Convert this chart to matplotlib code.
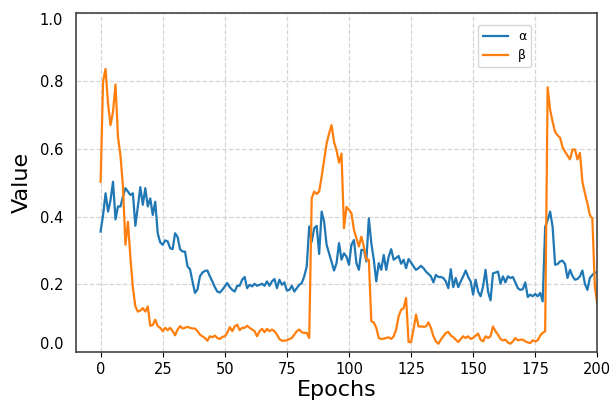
import matplotlib
matplotlib.use('Agg')
import matplotlib.pyplot as plt
import numpy as np

# values, one per epoch (0..200)
alpha = [
    0.356, 0.405, 0.469, 0.415, 0.449, 0.503, 0.392, 0.430, 0.430, 0.459,
    0.484, 0.474, 0.464, 0.469, 0.373, 0.430, 0.487, 0.435, 0.484, 0.430,
    0.454, 0.405, 0.444, 0.351, 0.324, 0.317, 0.330, 0.327, 0.307, 0.304,
    0.351, 0.340, 0.304, 0.297, 0.297, 0.253, 0.245, 0.209, 0.175, 0.185,
    0.224, 0.235, 0.240, 0.241, 0.224, 0.209, 0.192, 0.179, 0.176, 0.184,
    0.194, 0.204, 0.192, 0.184, 0.179, 0.196, 0.196, 0.214, 0.222, 0.189,
    0.199, 0.194, 0.202, 0.196, 0.199, 0.202, 0.196, 0.209, 0.196, 0.209,
    0.216, 0.189, 0.214, 0.199, 0.206, 0.182, 0.184, 0.196, 0.179, 0.189,
    0.199, 0.204, 0.224, 0.253, 0.371, 0.326, 0.366, 0.373, 0.290, 0.415,
    0.385, 0.317, 0.292, 0.268, 0.241, 0.263, 0.322, 0.273, 0.292, 0.282,
    0.258, 0.317, 0.331, 0.263, 0.243, 0.302, 0.302, 0.268, 0.395, 0.322,
    0.273, 0.209, 0.263, 0.243, 0.287, 0.243, 0.282, 0.304, 0.273, 0.278,
    0.284, 0.261, 0.273, 0.248, 0.275, 0.265, 0.253, 0.243, 0.248, 0.255,
    0.248, 0.238, 0.231, 0.224, 0.206, 0.228, 0.222, 0.222, 0.219, 0.209,
    0.189, 0.245, 0.192, 0.219, 0.192, 0.209, 0.224, 0.241, 0.222, 0.209,
    0.170, 0.214, 0.179, 0.165, 0.194, 0.243, 0.179, 0.153, 0.233, 0.235,
    0.238, 0.202, 0.224, 0.206, 0.224, 0.219, 0.222, 0.206, 0.189, 0.184,
    0.186, 0.206, 0.163, 0.170, 0.165, 0.172, 0.165, 0.175, 0.150, 0.370,
    0.390, 0.415, 0.370, 0.258, 0.260, 0.268, 0.270, 0.260, 0.219, 0.243,
    0.225, 0.214, 0.216, 0.224, 0.241, 0.202, 0.184, 0.219, 0.228, 0.235,
    0.236,
]

beta = [
    0.503, 0.800, 0.836, 0.733, 0.670, 0.710, 0.790, 0.635, 0.580, 0.490,
    0.317, 0.385, 0.280, 0.190, 0.135, 0.120, 0.123, 0.130, 0.120, 0.135,
    0.078, 0.080, 0.096, 0.077, 0.072, 0.062, 0.072, 0.065, 0.072, 0.062,
    0.050, 0.067, 0.077, 0.070, 0.072, 0.075, 0.072, 0.070, 0.070, 0.062,
    0.052, 0.047, 0.042, 0.034, 0.047, 0.044, 0.049, 0.042, 0.039, 0.045,
    0.047, 0.057, 0.074, 0.062, 0.076, 0.081, 0.065, 0.072, 0.072, 0.078,
    0.072, 0.067, 0.062, 0.047, 0.062, 0.069, 0.059, 0.069, 0.062, 0.067,
    0.062, 0.052, 0.039, 0.034, 0.034, 0.035, 0.039, 0.042, 0.052, 0.062,
    0.067, 0.059, 0.057, 0.057, 0.042, 0.454, 0.474, 0.467, 0.474, 0.518,
    0.567, 0.616, 0.645, 0.670, 0.620, 0.596, 0.559, 0.586, 0.366, 0.429,
    0.420, 0.410, 0.361, 0.336, 0.312, 0.341, 0.312, 0.273, 0.273, 0.091,
    0.088, 0.072, 0.042, 0.039, 0.040, 0.042, 0.044, 0.039, 0.047, 0.067,
    0.106, 0.125, 0.130, 0.160, 0.030, 0.030, 0.067, 0.111, 0.076, 0.076,
    0.075, 0.076, 0.088, 0.072, 0.047, 0.032, 0.025, 0.037, 0.047, 0.057,
    0.060, 0.049, 0.045, 0.037, 0.030, 0.039, 0.047, 0.042, 0.047, 0.039,
    0.042, 0.049, 0.055, 0.037, 0.032, 0.047, 0.042, 0.047, 0.076, 0.062,
    0.052, 0.039, 0.035, 0.037, 0.029, 0.025, 0.032, 0.042, 0.035, 0.037,
    0.037, 0.032, 0.029, 0.027, 0.035, 0.032, 0.035, 0.049, 0.057, 0.062,
    0.782, 0.715, 0.680, 0.650, 0.640, 0.633, 0.605, 0.592, 0.580, 0.569,
    0.598, 0.598, 0.569, 0.588, 0.503, 0.469, 0.440, 0.405, 0.395, 0.194,
    0.140,
]

epochs = np.arange(len(alpha))
x_ticks = [0, 25, 50, 75, 100, 125, 150, 175, 200]
y_ticks = [0.0, 0.2, 0.4, 0.6, 0.8, 1.0]

fig = plt.figure(figsize=(6.11, 4.03), dpi=100)
ax = fig.add_axes([0.124, 0.126, 0.8536, 0.841])

ax.plot(epochs, alpha, color='#1f77b4', lw=1.6, label='α')
ax.plot(epochs, beta, color='#ff7f0e', lw=1.6, label='β')

ax.set_xlim(-10, 200)
ax.set_ylim(0, 1.0)
ax.set_xticks(x_ticks)
ax.set_yticks(y_ticks)
ax.set_yticklabels([f'{v:.1f}' for v in y_ticks])
ax.tick_params(labelsize=10.5)
ax.tick_params(axis='y', length=0, pad=9)

# end labels sit inside the axis range in the reference
labels = ax.get_yticklabels()
labels[0].set_va('bottom')
labels[-1].set_va('top')

ax.grid(True, linestyle='--', color='#cccccc', linewidth=0.9, alpha=0.8)
for s in ax.spines.values():
    s.set_color('#444444')
    s.set_linewidth(1.2)

ax.set_xlabel('Epochs', fontsize=16, labelpad=2)
ax.set_ylabel('Value', fontsize=16, labelpad=6)

ax.legend(loc='upper right', bbox_to_anchor=(0.873, 0.965), borderaxespad=0,
          fontsize=9)

fig.savefig('out.png', dpi=100)
